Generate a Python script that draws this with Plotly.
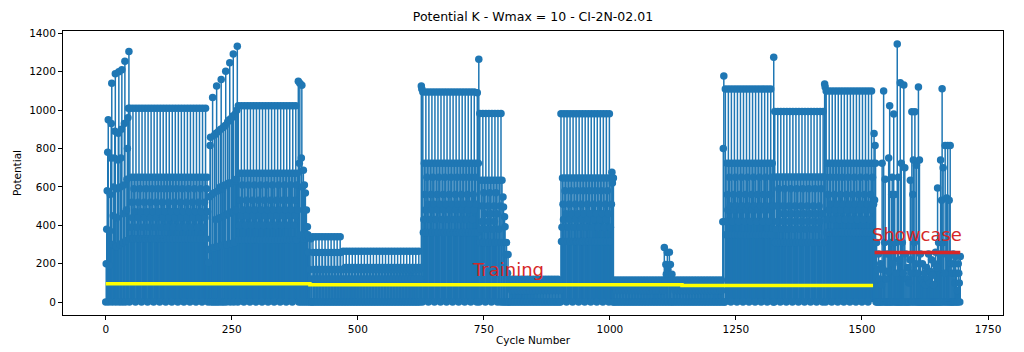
import plotly.graph_objects as go

# ---------------- data ----------------
ramp1 = [0, 200, 380, 580, 780, 950,
         0, 190, 370, 560, 750, 930, 1140,
         0, 300, 450, 600, 750, 890, 1190,
         0, 290, 440, 590, 740, 880, 1200,
         0, 300, 600, 750, 900, 1210,
         0, 310, 460, 610, 930, 1255,
         0, 320, 480, 640, 800, 960, 1010, 1305]
steady1_pattern = [0, 1010, 330, 390, 650, 520, 440, 1010, 330, 590, 650, 470]
steady1_reps = 13
ramp2 = [0, 206, 274, 549, 816, 859, 0, 280, 560, 1066,
         0, 285, 570, 870, 0, 430, 880, 1126,
         0, 290, 580, 890, 0, 440, 600, 900, 1160,
         0, 295, 590, 910, 0, 450, 610, 920, 1203,
         0, 300, 610, 940, 460, 620, 950, 1247,
         0, 305, 620, 960, 470, 970, 1293,
         0, 310, 630, 980, 480, 640, 1000, 1333]
steady2_pattern = [0, 1023, 325, 400, 671, 530, 450, 1023, 325, 610, 671, 480]
steady2_reps = 10
decline1 = [1150, 0, 723, 1140, 350, 0, 750, 1130, 600, 0, 687, 330, 610, 0,
            568, 340, 480, 0, 393, 351, 260, 0, 336, 170, 0, 330, 120, 0]
low1_pattern = [0, 340, 258, 0, 170, 120]
low1_reps = 10
low2_pattern = [0, 265, 170, 0, 120, 180]
low2_reps = 26
seg3_start = [1126, 1110]
seg3_pattern = [0, 1095, 362, 430, 723, 560, 480, 1095, 362, 650, 723, 510]
seg3_reps = 9
seg3_end = [0, 1090, 362, 723]
spike1 = [1265]
seg4_pattern = [0, 983, 310, 380, 635, 500, 420, 983, 310, 570, 635, 460]
seg4_reps = 3
seg4_end = [0, 983, 310, 380, 635, 500, 0, 983, 310, 635]
decline2 = [0, 548, 495, 0, 444, 393, 0, 248, 310, 0, 150, 248, 0]
low3_pattern = [0, 119, 80, 110, 0, 60]
low3_reps = 17
seg5_pattern = [0, 981, 315, 390, 646, 510, 430, 981, 315, 580, 646, 460]
seg5_reps = 8
seg5_end = [0, 981, 315, 390, 646, 510, 677, 620, 0, 646]
low4_pattern = [0, 115, 80, 0, 110, 60]
low4_reps = 16
low4_end = [0, 115, 60]
bump = [0, 284, 115, 0, 196, 145, 0, 258, 170, 0, 145, 260, 0, 196, 115, 0, 145]
low5_pattern = [0, 115, 80, 0, 110, 60]
low5_reps = 16
low5_end = [0, 115, 60, 0]
seg6_start = [418, 800, 1178, 0]
seg6_pattern = [0, 1110, 351, 420, 723, 560, 480, 1110, 351, 650, 723, 500]
seg6_reps = 8
seg6_end = [0]
spike2 = [1276]
seg7_pattern = [0, 993, 310, 380, 652, 500, 420, 993, 310, 590, 652, 460]
seg7_reps = 8
seg7_end = [0, 993, 310, 652]
seg8_start = [1136, 1120]
seg8_pattern = [0, 1100, 362, 430, 723, 560, 480, 1100, 362, 650, 723, 510]
seg8_reps = 8
seg8_end = [878, 532, 816, 723]
showcase = [0, 310, 0, 170, 0, 250, 0, 120, 0, 200, 0, 90,
            723, 0, 170, 1100, 0, 310, 640, 0, 120, 0,
            250, 0, 160, 750, 0, 1023, 0, 310, 0, 560,
            650, 0, 200, 980, 0, 560, 310, 0, 150, 0,
            1345, 0, 650, 0, 220, 0, 1143, 0, 723, 0,
            310, 0, 150, 1131, 0, 700, 0, 250, 0, 120,
            0, 180, 0, 100, 0, 220, 635, 0, 150, 992,
            0, 560, 740, 0, 310, 992, 0, 200, 713, 0,
            150, 0, 1121, 0, 740, 0, 250, 0, 120, 0,
            200, 0, 100, 0, 150, 0, 90, 0, 180, 0,
            120, 0, 250, 0, 100, 0, 160, 0, 220, 0,
            140, 0, 90, 0, 200, 0, 260, 0, 180, 0,
            594, 0, 310, 0, 250, 0, 740, 0, 530, 1112,
            0, 700, 310, 0, 150, 816, 0, 250, 542, 0,
            816, 0, 230, 530, 0, 816, 0, 200, 0, 150,
            0, 250, 0, 200, 100, 0, 238, 150, 0, 60,
            0, 200, 150, 100, 0, 238]

training_x = [0, 405, 1143, 1522]
training_y = [96, 90, 87, 87]
showcase_x = [1525, 1695]
showcase_y = [258, 258]
labels = ["Training", "Showcase"]
label_x = [722, 1516]
label_y = [170, 350]

# ---------------- build series ----------------
potential = (ramp1 + steady1_pattern * steady1_reps + ramp2 + steady2_pattern * steady2_reps
             + decline1 + low1_pattern * low1_reps + low2_pattern * low2_reps
             + seg3_start + seg3_pattern * seg3_reps + seg3_end + spike1
             + seg4_pattern * seg4_reps + seg4_end + decline2
             + low3_pattern * low3_reps + seg5_pattern * seg5_reps + seg5_end
             + low4_pattern * low4_reps + low4_end + bump
             + low5_pattern * low5_reps + low5_end
             + seg6_start + seg6_pattern * seg6_reps + seg6_end + spike2
             + seg7_pattern * seg7_reps + seg7_end
             + seg8_start + seg8_pattern * seg8_reps + seg8_end + showcase)
cycles = list(range(len(potential)))

stem_x, stem_y = [], []
for c, v in zip(cycles, potential):
    stem_x += [c, c, None]
    stem_y += [0, v, None]

xmax = max(cycles)
ymax = max(potential)
xr = [-0.05 * xmax, xmax * 1.05]
yr = [-0.05 * ymax, ymax * 1.05]

BLUE = "#1f77b4"
RED = "#d62728"
FONT = "DejaVu Sans"

fig = go.Figure()
fig.add_trace(go.Scatter(x=stem_x, y=stem_y, mode="lines",
                         line=dict(color=BLUE, width=1.5), hoverinfo="skip"))
fig.add_trace(go.Scatter(x=cycles, y=potential, mode="markers",
                         marker=dict(color=BLUE, size=7.5, line=dict(width=0))))
fig.add_trace(go.Scatter(x=training_x, y=training_y, mode="lines",
                         line=dict(color="#ffff00", width=3.5, shape="hv")))
fig.add_trace(go.Scatter(x=showcase_x, y=showcase_y, mode="lines",
                         line=dict(color=RED, width=3.5)))

for t, x, y in zip(labels, label_x, label_y):
    fig.add_annotation(x=x, y=y, text=t, showarrow=False, xanchor="left", yanchor="middle",
                       font=dict(family=FONT, size=18, color=RED))

axis_common = dict(showgrid=False, zeroline=False, showline=True, linecolor="black",
                   linewidth=1, mirror=True, ticks="outside", ticklen=4, tickcolor="black",
                   automargin=False,
                   tickfont=dict(family=FONT, size=10.5, color="black"))

fig.update_layout(
    width=1024, height=352,
    margin=dict(l=63, r=21, t=31, b=37),
    paper_bgcolor="white", plot_bgcolor="white",
    showlegend=False,
    title=dict(text="Potential K - Wmax = 10 - CI-2N-02.01", x=0.5, xref="paper",
               xanchor="center", y=1 - 17 / 352, yref="container", yanchor="middle",
               font=dict(family=FONT, size=12.5, color="black")),
    xaxis=dict(range=xr, tickmode="linear", tick0=0, dtick=250,
               title=dict(text="Cycle Number", standoff=3,
                          font=dict(family=FONT, size=10.5, color="black")),
               **axis_common),
    yaxis=dict(range=yr, tickmode="linear", tick0=0, dtick=200,
               title=dict(text="Potential", standoff=5,
                          font=dict(family=FONT, size=10.5, color="black")),
               **axis_common),
)

fig.write_html("out.html")
